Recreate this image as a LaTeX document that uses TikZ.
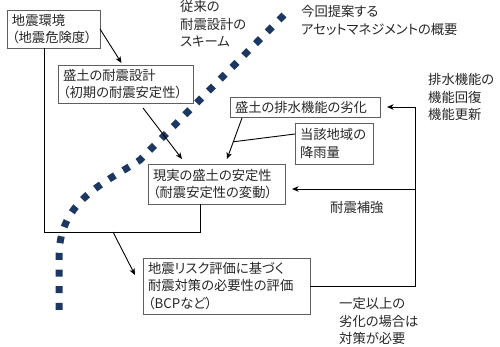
\documentclass[tikz,border=0pt]{standalone}
\usepackage{fontspec}
\setmainfont{Noto Sans CJK JP}[RawFeature=+palt]
\usepackage{tikz}
\usetikzlibrary{arrows.meta,calc}
\definecolor{boxgray}{RGB}{95,95,95}
\definecolor{schemeblue}{RGB}{28,56,98}
\tikzset{
  box/.style={draw=boxgray,line width=0.8pt,align=left,anchor=north west,outer sep=0pt,
    inner xsep=5pt,inner ysep=0pt,text=black!85,font=\fontsize{13.3}{17.3}\selectfont},
  lbl/.style={align=left,anchor=west,inner sep=0pt,text=black!85,font=\fontsize{13.3}{17.3}\selectfont},
  wire/.style={line width=0.9pt},
  arr/.style={line width=0.9pt,-{Stealth[length=6.5pt,width=5.5pt,inset=1.8pt]}},
  scheme/.style={schemeblue,line width=7pt,dash pattern=on 7pt off 9.7pt}
}

\begin{document}
\begin{tikzpicture}[x=1pt,y=-1pt]
\useasboundingbox (0,0) rectangle (500,346);
% boxes
\node[box,text width=83pt,minimum height=38pt] (env) at (7,10) {地震環境\\（地震危険度）};
\node[box,text width=125pt,minimum height=38pt] (design) at (58,65) {盛土の耐震設計\\（初期の耐震安定性）};
\node[box,text width=140pt,minimum height=20pt] (drain) at (230,97) {盛土の排水機能の劣化};
\node[box,text width=68pt,minimum height=41pt] (rain) at (295,123) {当該地域の\\降雨量};
\node[box,text width=127pt,minimum height=40pt] (actual) at (148,164) {現実の盛土の安定性\\（耐震安定性の変動）};
\node[box,text width=157pt,minimum height=56pt] (risk) at (143,258) {地震リスク評価に基づく\\耐震対策の必要性の評価\\（BCPなど）};
% labels
\node[lbl] (conv) at (180,24) {従来の\\耐震設計の\\スキーム};
\node[lbl] (prop) at (301,20.5) {今回提案する\\アセットマネジメントの概要};
\node[lbl] (restore) at (428,97) {排水機能の\\機能回復\\機能更新};
\node[lbl] (reinforce) at (330,207) {耐震補強};
\node[lbl] (needed) at (339,321) {一定以上の\\劣化の場合は\\対策が必要};
% scheme boundary
\draw[scheme] (284,15) -- (140,160) .. controls (105,183) and (60,200) .. (59,255) -- (59,316);
% arrows
\draw[arr] (env.east) -- ([xshift=-4pt,yshift=2pt]design.north);
\draw[arr] ([xshift=17.5pt,yshift=-5pt]design.south) -- ([xshift=-34.5pt,yshift=5pt]actual.north);
\coordinate (drainout) at ([xshift=12pt,yshift=-1pt]drain.south west);
\coordinate (actualin) at ([xshift=10.5pt,yshift=5pt]actual.north);
\draw[arr] (drainout) -- (actualin);
\coordinate (rainjoin) at ($(drainout)!0.58!(actualin)$);
\draw[wire] ([yshift=9.5pt]rain.west) -- (rainjoin);
% bracket to risk evaluation
\coordinate (bl) at (44,232);
\coordinate (br) at (200,232);
\coordinate (bm) at (113,232);
\draw[wire] ([xshift=-9.5pt]env.south) -- (bl) -- (br) -- (br |- actual.south);
\draw[arr] (bm) -- ([xshift=-8pt,yshift=11pt]risk.west);
% feedback loop
\coordinate (loop) at (415,107);
\coordinate (tap) at (415,189);
\draw[arr,shorten >=7pt] (risk.east) -| (loop) -- (drain.east);
\draw[arr,shorten >=7pt] (tap) -- (tap -| actual.east);
\end{tikzpicture}
\end{document}
